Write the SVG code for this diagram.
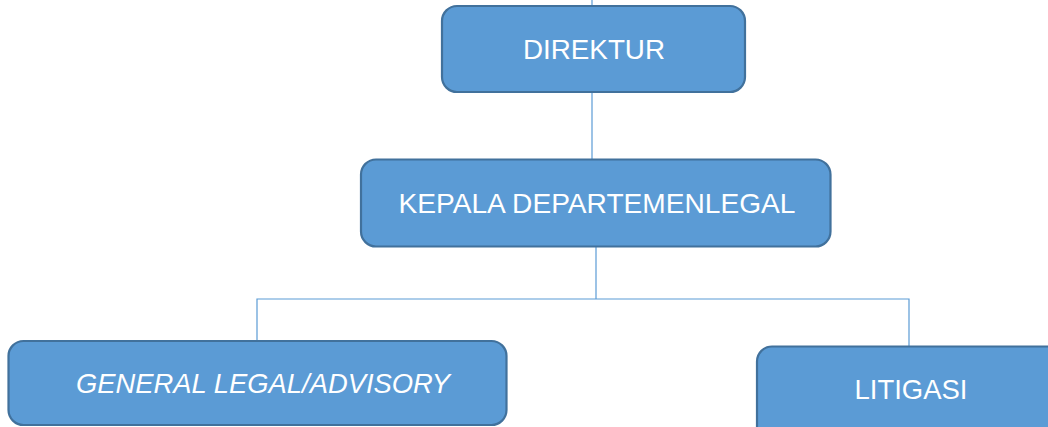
<svg xmlns="http://www.w3.org/2000/svg" width="1048" height="427" viewBox="0 0 1048 427">
<style>
.box{fill:#5B9BD5;stroke:#41719C;stroke-width:2.2}
.lbl{fill:#FFFFFF;font-family:"Liberation Sans",Arial,sans-serif;font-size:28.5px;text-anchor:middle}
.con{fill:none;stroke:#5B9BD5;stroke-width:1.2}
</style>
<rect width="1048" height="427" fill="#FFFFFF"/>
<g id="connectors">
<line class="con" x1="592" y1="0" x2="592" y2="160"/>
<line class="con" x1="596" y1="247" x2="596" y2="299"/>
<polyline class="con" points="257,341 257,299 909,299 909,347"/>
</g>
<g id="direktur">
<rect class="box" x="442" y="6" width="303" height="86" rx="15"/>
<text class="lbl" x="594" y="59" textLength="142" lengthAdjust="spacingAndGlyphs">DIREKTUR</text>
</g>
<g id="kepala">
<rect class="box" x="361" y="159.5" width="469.5" height="87" rx="15"/>
<text class="lbl" x="597" y="213" textLength="397" lengthAdjust="spacingAndGlyphs">KEPALA DEPARTEMENLEGAL</text>
</g>
<g id="general">
<rect class="box" x="8.5" y="341" width="498" height="84" rx="15"/>
<text class="lbl" x="263" y="393" font-style="italic" textLength="374" lengthAdjust="spacingAndGlyphs">GENERAL LEGAL/ADVISORY</text>
</g>
<g id="litigasi">
<rect class="box" x="757" y="346.5" width="310" height="100" rx="15"/>
<text class="lbl" x="911" y="399" textLength="113" lengthAdjust="spacingAndGlyphs">LITIGASI</text>
</g>
</svg>
